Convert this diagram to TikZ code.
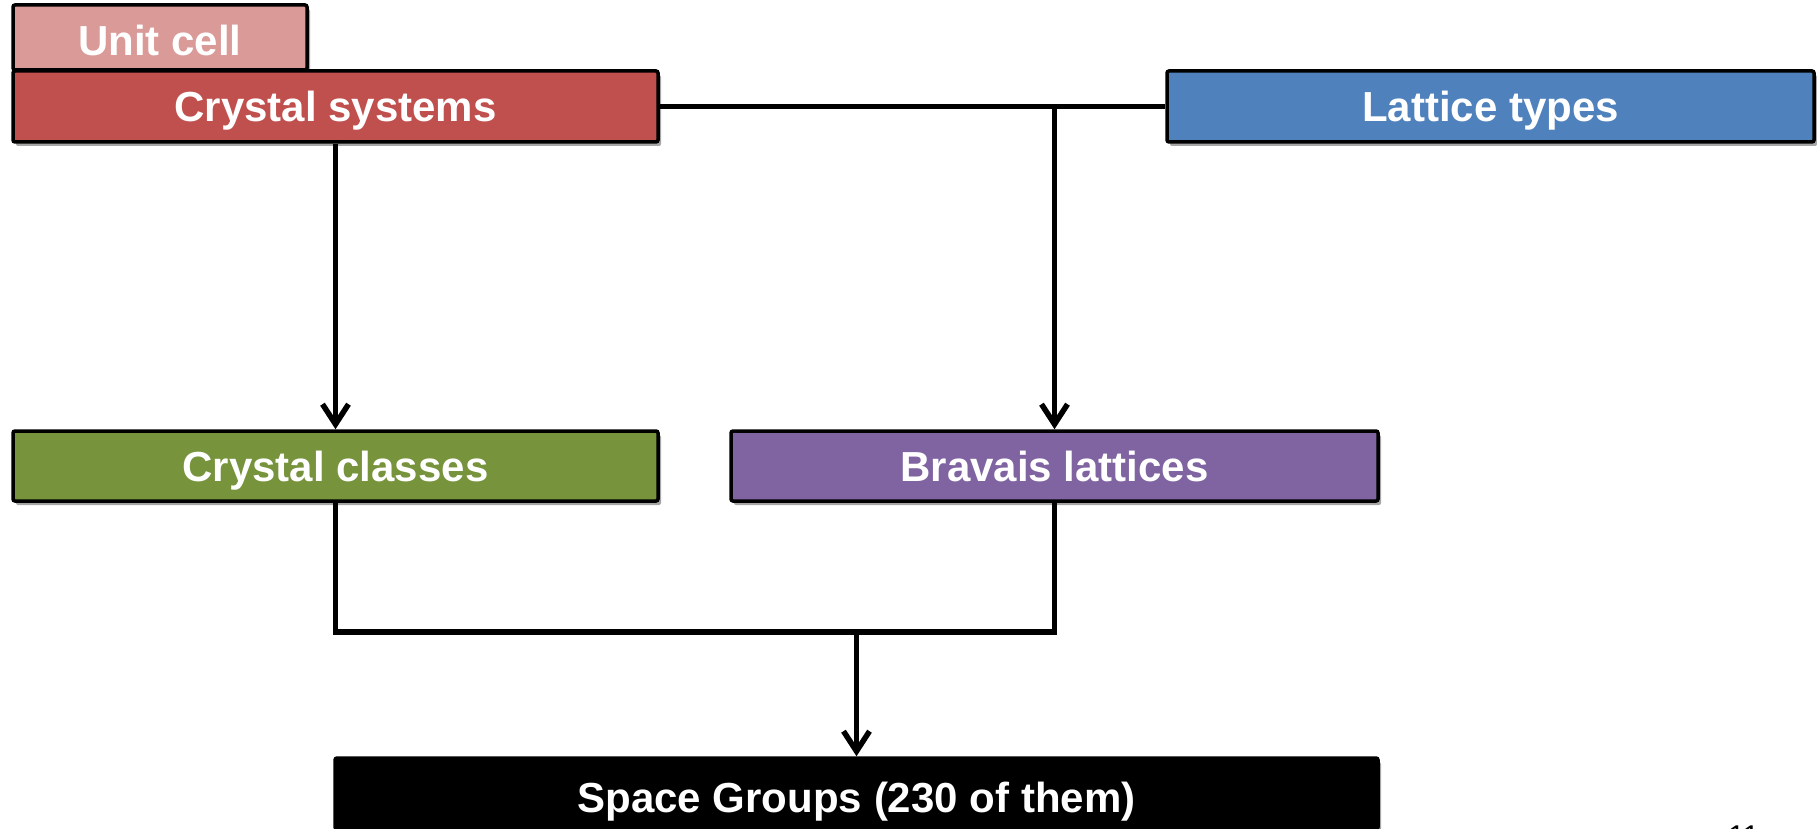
\documentclass[tikz,border=0pt]{standalone}
\usepackage{fontspec}
\setmainfont{Liberation Sans}
\usetikzlibrary{arrows.meta,shadows}
\definecolor{unitred}{HTML}{D99A98}
\definecolor{sysred}{HTML}{C0504D}
\definecolor{latblue}{HTML}{4F81BD}
\definecolor{clsgreen}{HTML}{77933C}
\definecolor{brvpurple}{HTML}{8064A2}
\tikzset{
  box/.style={draw=black, line width=3.5pt, rounded corners=2pt, inner sep=0pt,
    text=white, font=\fontsize{42}{50}\selectfont\bfseries,
    text height=40pt, text depth=10pt,
    drop shadow={shadow xshift=3pt, shadow yshift=-4pt, opacity=0.35, fill=black}},
  conn/.style={line width=5.5pt, draw=black},
  arr/.style={conn, -{Straight Barb[length=20pt,width=26pt,line width=5.5pt]}}
}
\begin{document}
\begin{tikzpicture}[x=1pt,y=-1pt]
\useasboundingbox (0,0) rectangle (1817,829);
\node[box, fill=unitred, minimum width=294pt, minimum height=65pt, text height=47pt, text depth=10pt] (uc) at (160,37.5) {Unit cell};
\node[box, fill=sysred, minimum width=645pt, minimum height=71pt] (cs) at (335.5,106.5) {Crystal systems};
\node[box, fill=latblue, minimum width=647pt, minimum height=71pt] (lt) at (1490.5,106.5) {Lattice types};
\node[box, fill=clsgreen, minimum width=645pt, minimum height=70pt] (cc) at (335.5,466) {Crystal classes};
\node[box, fill=brvpurple, minimum width=647pt, minimum height=70pt] (bl) at (1054.5,466) {Bravais lattices};
\node[box, fill=black, minimum width=1043pt, minimum height=71pt, text height=48pt, text depth=10pt] (sg) at (856.5,793.5) {Space Groups (230 of them)};
\coordinate (j) at (856.5,632);
\draw[arr] (cs.south) -- (cc.north);
\draw[conn] (cs.east) -- (lt.west);
\draw[arr] (bl.north |- cs.east) -- (bl.north);
\draw[conn, line join=miter] (cc.south) -- (cc.south |- j) -- (bl.south |- j) -- (bl.south);
\draw[arr] (j) -- (sg.north);
\node[anchor=north west, inner sep=0pt, font=\fontsize{30}{36}\selectfont, text=black] (pn) at (1728,825.5) {11};
\end{tikzpicture}
\end{document}
